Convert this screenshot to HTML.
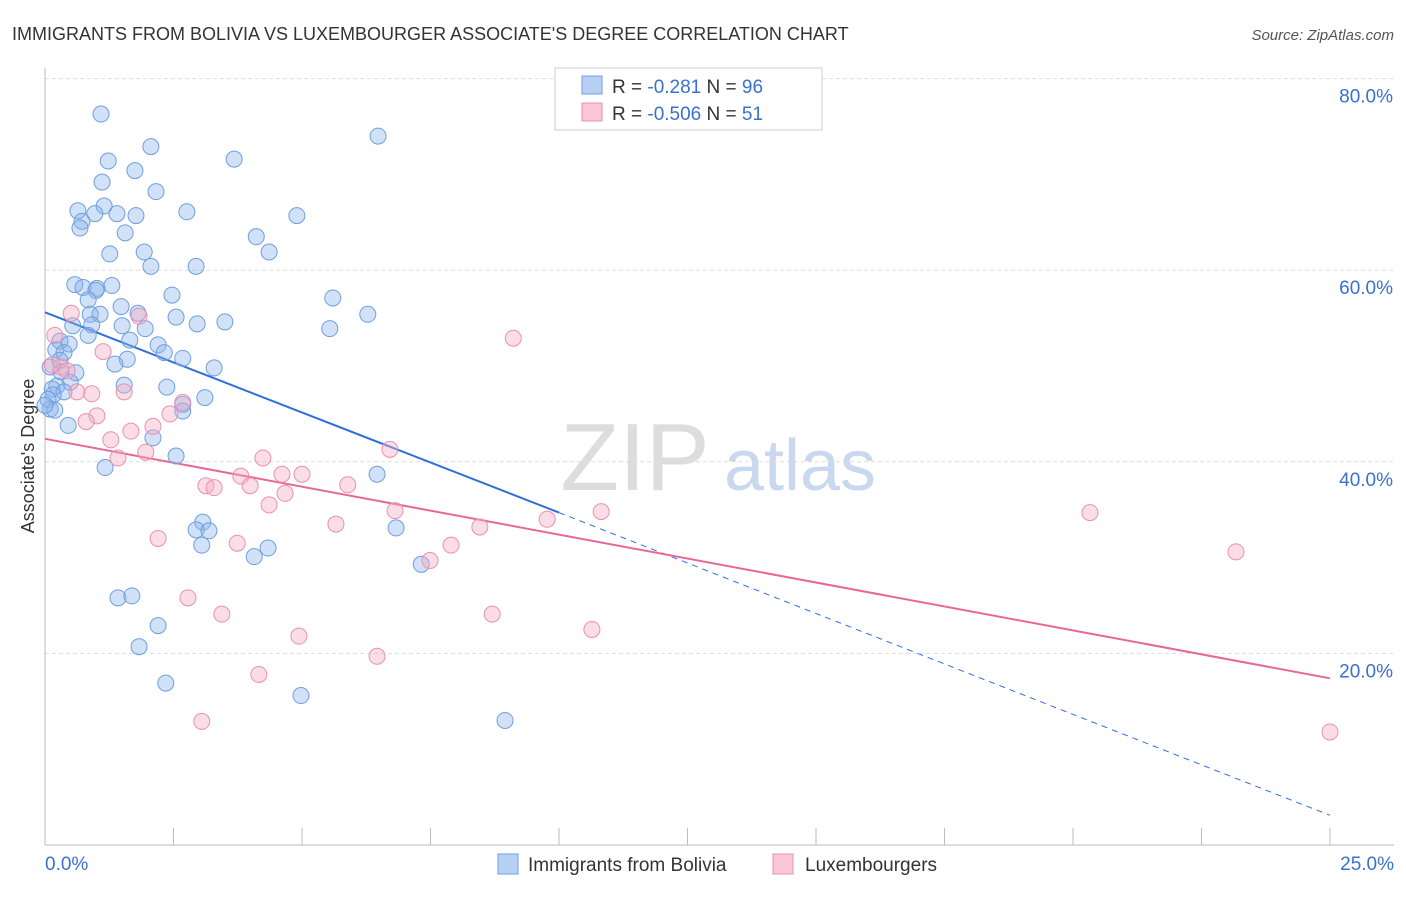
<!DOCTYPE html>
<html><head><meta charset="utf-8"><style>
body{margin:0;background:#fff;font-family:"Liberation Sans",sans-serif;}
svg text{font-family:"Liberation Sans",sans-serif;}
</style></head><body>
<svg id="c" width="1406" height="892" viewBox="0 0 1406 892">
<text x="12" y="40" font-size="18" fill="#333">IMMIGRANTS FROM BOLIVIA VS LUXEMBOURGER ASSOCIATE'S DEGREE CORRELATION CHART</text>
<text x="1394" y="40" font-size="15" fill="#555" font-style="italic" text-anchor="end">Source: ZipAtlas.com</text>
<text x="34" y="456" font-size="18" fill="#333" text-anchor="middle" transform="rotate(-90 34 456)">Associate's Degree</text>
<g><text x="635" y="490" font-size="96" fill="#ddd" font-family="Liberation Serif" text-anchor="middle">ZIP</text><text x="800" y="490" font-size="72" fill="#c9d8ee" text-anchor="middle">atlas</text></g>
<g id="grid"></g><g id="axes"></g><g id="lines"></g><g id="pts"></g>
<g>
<rect x="555" y="68" width="267" height="62" fill="#fff" stroke="#ccc"/>
<rect x="582" y="76" width="20" height="18" fill="#b8d0f3" stroke="#6f9fe0"/>
<text x="612" y="93" font-size="19" fill="#333">R = <tspan fill="#3a70d0">-0.281</tspan>   N = <tspan fill="#3a70d0">96</tspan></text>
<rect x="582" y="103" width="20" height="18" fill="#f8c6d6" stroke="#ec90ad"/>
<text x="612" y="120" font-size="19" fill="#333">R = <tspan fill="#3a70d0">-0.506</tspan>   N = <tspan fill="#3a70d0"> 51</tspan></text>
</g>
<g>
<rect x="498" y="854" width="20" height="20" fill="#b8d0f3" stroke="#6f9fe0"/>
<text x="528" y="871" font-size="19" fill="#333">Immigrants from Bolivia</text>
<rect x="773" y="854" width="20" height="20" fill="#f8c6d6" stroke="#ec90ad"/>
<text x="805" y="871" font-size="19" fill="#333">Luxembourgers</text>
</g>
</svg>
<script>
const blueX=[1.09,6.48,2.06,1.23,3.68,1.75,1.11,2.16,0.64,1.15,1.40,1.77,2.76,4.90,0.97,0.72,0.68,1.56,4.11,1.93,4.36,1.26,2.06,2.94,0.58,0.74,1.01,1.30,0.99,2.47,5.60,0.84,1.48,1.81,0.88,1.07,2.55,6.28,3.50,0.54,2.96,1.50,0.91,1.95,5.54,0.84,0.29,0.47,1.65,0.21,0.37,2.20,2.32,1.60,2.68,1.36,3.29,0.10,0.60,0.31,0.49,1.54,0.23,2.37,0.14,0.37,3.11,0.16,0.06,2.68,0.10,0.19,2.68,0.45,2.10,2.55,1.17,6.46,3.07,2.94,3.19,6.83,3.05,4.34,4.07,7.32,1.42,1.69,2.20,1.83,2.35,4.98,8.95,0.0,0.29];
const blueY=[76.3,74.0,72.9,71.4,71.6,70.4,69.2,68.2,66.2,66.7,65.9,65.7,66.1,65.7,65.9,65.1,64.4,63.9,63.5,61.9,61.9,61.7,60.4,60.4,58.5,58.2,58.1,58.4,57.9,57.4,57.1,56.9,56.2,55.5,55.4,55.4,55.1,55.4,54.6,54.2,54.4,54.2,54.3,53.9,53.9,53.2,52.6,52.3,52.7,51.7,51.4,52.2,51.4,50.7,50.8,50.2,49.8,49.9,49.3,49.4,48.3,48.0,47.9,47.8,47.6,47.3,46.7,47.0,46.5,46.0,45.5,45.4,45.3,43.8,42.5,40.6,39.4,38.7,33.7,32.9,32.8,33.1,31.3,31.0,30.1,29.3,25.8,26.0,22.9,20.7,16.9,15.6,13.0,45.9,50.6];
const pinkX=[0.19,0.51,1.83,9.11,1.13,0.31,0.43,0.62,0.91,1.54,2.68,2.43,1.01,0.80,2.10,1.67,1.28,6.71,1.42,1.96,4.24,3.81,4.61,5.00,3.13,3.99,3.29,5.89,4.67,4.36,6.81,10.82,9.77,20.33,5.66,8.46,2.20,3.74,7.90,7.49,23.17,2.78,3.44,8.70,10.64,4.94,6.46,4.16,3.05,25.0,0.14];
const pinkY=[53.2,55.5,55.2,52.9,51.5,49.9,49.5,47.3,47.1,47.3,46.2,45.0,44.8,44.2,43.7,43.2,42.3,41.3,40.4,41.0,40.4,38.5,38.7,38.7,37.5,37.5,37.3,37.6,36.7,35.5,34.9,34.8,34.0,34.7,33.5,33.2,32.0,31.5,31.3,29.7,30.6,25.8,24.1,24.1,22.5,21.8,19.7,17.8,12.9,11.8,50.1];
const blueLine=[55.6,34.7,3.1]; // y at x=0,10,25
const blueLineX=[0,10,25];
const pinkLine=[42.4,17.4];
const pinkLineX=[0,25];
const yTicks=[20,40,60,80];
const xTickVals=[0,2.5,5,7.5,10,12.5,15,17.5,20,22.5,25];
const xLabels=["0.0%","25.0%"];
const NS="http://www.w3.org/2000/svg";
const sx=v=>45+v*51.4, sy=v=>845-v*9.58;
function mk(tag,attrs,parent){const e=document.createElementNS(NS,tag);for(const k in attrs)e.setAttribute(k,attrs[k]);document.getElementById(parent).appendChild(e);return e;}
yTicks.forEach(t=>{
 const l=mk('line',{x1:45,x2:1394,y1:sy(t),y2:sy(t),stroke:'#ddd','stroke-dasharray':'4,3'},'grid');
 
 
 const tx=mk('text',{x:1393,y:sy(t)+24,'font-size':19,fill:'#3a70d0','text-anchor':'end'},'grid');tx.textContent=t.toFixed(1)+'%';
 
 
});
const ax=mk('line',{x1:45,x2:45,y1:68,y2:845,stroke:'#bbb'},'axes');


const bx=mk('line',{x1:45,x2:1394,y1:845,y2:845,stroke:'#bbb'},'axes');


xTickVals.forEach(v=>{const t=mk('line',{x1:sx(v),x2:sx(v),y1:828,y2:845,stroke:'#bbb'},'axes');
 
 });
[[0,'start',45],[25,'end',1394]].forEach((d,i)=>{const t=mk('text',{x:d[2],y:870,'font-size':19,fill:'#3a70d0','text-anchor':d[1]},'axes');t.textContent=xLabels[i];
 
 });
for(let i=0;i<blueX.length;i++){const c=mk('circle',{cx:sx(blueX[i]),cy:sy(blueY[i]),r:8,fill:'rgba(140,180,235,0.4)',stroke:'#6f9fe0','stroke-width':1},'pts');
 
 }
for(let i=0;i<pinkX.length;i++){const c=mk('circle',{cx:sx(pinkX[i]),cy:sy(pinkY[i]),r:8,fill:'rgba(245,170,195,0.4)',stroke:'#ec90ad','stroke-width':1},'pts');
 
 }
const b1=mk('line',{x1:sx(blueLineX[0]),y1:sy(blueLine[0]),x2:sx(blueLineX[1]),y2:sy(blueLine[1]),stroke:'#2f6fdc','stroke-width':2},'lines');


const b2=mk('line',{x1:sx(blueLineX[1]),y1:sy(blueLine[1]),x2:sx(blueLineX[2]),y2:sy(blueLine[2]),stroke:'#2f6fdc','stroke-width':1,'stroke-dasharray':'6,5'},'lines');


const p1=mk('line',{x1:sx(pinkLineX[0]),y1:sy(pinkLine[0]),x2:sx(pinkLineX[1]),y2:sy(pinkLine[1]),stroke:'#e8679a','stroke-width':2},'lines');


</script>
</body></html>
